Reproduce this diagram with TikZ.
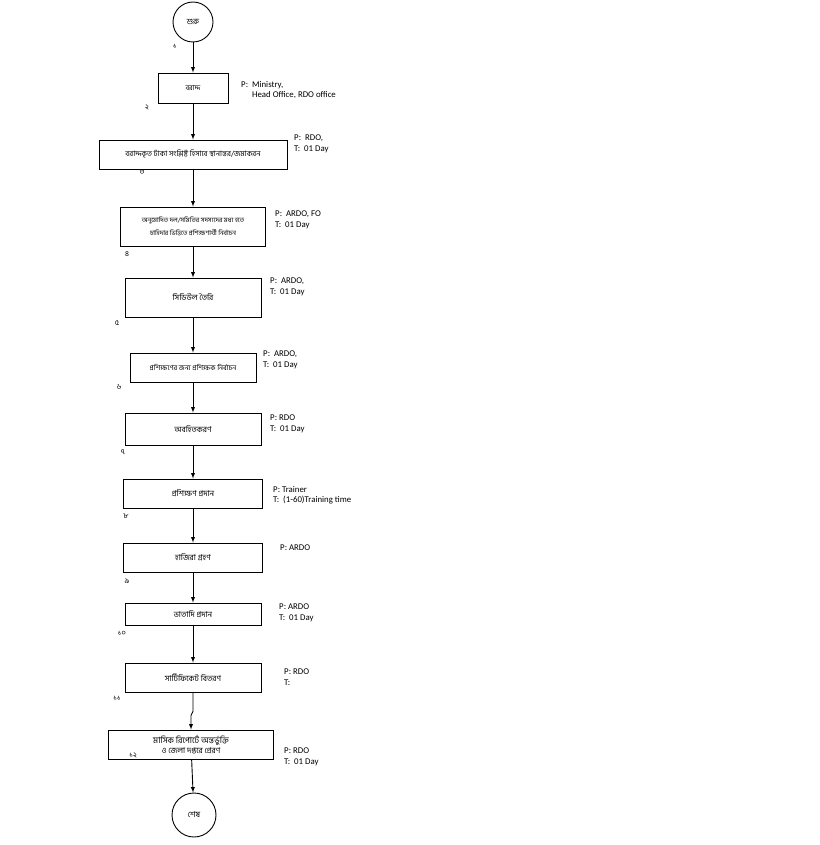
\documentclass[tikz,border=0pt]{standalone}
\usepackage{fontspec}
\setmainfont{Carlito}
\newfontfamily\bn[Script=Bengali]{Hind Siliguri}
\tikzset{
  box/.style={draw, line width=0.9pt, inner sep=0pt, align=center, font=\bn\fontsize{8}{10}\selectfont},
  term/.style={draw, circle, line width=0.9pt, inner sep=0pt, font=\bn\fontsize{8}{10}\selectfont},
  info/.style={anchor=north west, inner sep=0pt, align=left, font=\fontsize{8.8}{10.5}\selectfont},
  num/.style={inner sep=0pt, font=\bn\fontsize{7.5}{8}\selectfont},
  arr/.style={-latex, line width=0.9pt}
}
\begin{document}
\begin{tikzpicture}[x=1pt, y=-1pt]%
      \useasboundingbox (0,0) rectangle (819,845);%
      \node[term, minimum size=40pt] (S) at (193,22) {শুরু};
      \node[box, minimum width=70pt, minimum height=30pt, font=\bn\fontsize{7}{10}\selectfont] (B-1) at (193,88) {বরাদ্দ};
      \node[box, minimum width=188pt, minimum height=29pt, font=\bn\fontsize{7.5}{10}\selectfont] (B-2) at (193,154.5) {বরাদ্দকৃত টাকা সংশ্লিষ্ট হিসাবে স্থানান্তর/জমাকরন};
      \node[box, minimum width=145pt, minimum height=39pt, font=\bn\fontsize{6.5}{13}\selectfont] (B-3) at (193,226.5) {অনুমোদিত দল/সমিতির সদস্যদের মধ্য হতে\\চাহিদার ভিত্তিতে প্রশিক্ষণার্থী নির্বাচন};
      \node[box, minimum width=136pt, minimum height=39pt] (B-4) at (193,297.5) {সিডিউল তৈরি};
      \node[box, minimum width=126pt, minimum height=29pt, font=\bn\fontsize{7}{10}\selectfont] (B-5) at (193,367.5) {প্রশিক্ষণের জন্য প্রশিক্ষক নির্বাচন};
      \node[box, minimum width=136pt, minimum height=32pt] (B-6) at (193,429) {অবহিতকরণ};
      \node[box, minimum width=139pt, minimum height=29pt] (B-7) at (193,493.5) {প্রশিক্ষণ প্রদান};
      \node[box, minimum width=139pt, minimum height=29pt] (B-8) at (193,557.5) {হাজিরা গ্রহণ};
      \node[box, minimum width=136pt, minimum height=22pt] (B-9) at (193,614) {ভাতাদি প্রদান};
      \node[box, minimum width=136pt, minimum height=29pt] (B-10) at (193,677.5) {সার্টিফিকেট বিতরণ};
      \node[box, minimum width=165pt, minimum height=29pt] (B-11) at (191,744.5) {{\fontsize{8.5}{10}\selectfont মাসিক রিপোর্টে অন্তর্ভুক্তি}\\ও জেলা দপ্তরে প্রেরণ};
      \node[term, minimum size=44pt] (E) at (194,815) {শেষ};
      \foreach \i/\x/\y/\t in {1/175/46/১, 2/147/107/২, 3/142/172/৩, 4/127/254/৪, 5/117/323/৫, 6/119/387/৬,
        7/123/452/৭, 8/126/516/৮, 9/127/581/৯, 10/122/633/১০, 11/117/698/১১, 12/133/755/১২}{%
        \node[num] (n-\i) at (\x,\y) {\t};
      }
      \node[info] (P-1) at (241,81) {P:~~Ministry,\\\phantom{P:~~}Head Office, RDO office};
      \node[info] (P-2) at (294,135) {P:~~RDO,\\T:~~01 Day};
      \node[info] (P-3) at (275,211) {P:~~ARDO, FO\\T:~~01 Day};
      \node[info] (P-4) at (270,278) {P:~~ARDO,\\T:~~01 Day};
      \node[info] (P-5) at (263,351) {P:~~ARDO,\\T:~~01 Day};
      \node[info] (P-6) at (270,415) {P: RDO\\T:~~01 Day};
      \node[info] (P-7) at (273,486) {P: Trainer\\T:~~(1-60)Training time};
      \node[info] (P-8) at (280,545) {P: ARDO};
      \node[info] (P-9) at (279,604) {P: ARDO\\T:~~01 Day};
      \node[info] (P-10) at (284,669) {P: RDO\\T:};
      \node[info] (P-11) at (284,748) {P: RDO\\T:~~01 Day};
      \foreach \a/\b in {S/B-1, B-1/B-2, B-2/B-3, B-3/B-4, B-4/B-5, B-5/B-6, B-6/B-7, B-7/B-8, B-8/B-9, B-9/B-10}{%
        \draw[arr] (\a) -- (\b);
      }
      \draw[arr] (B-10.south) -- ++(0,19) -- ++(-2,4) -- (B-11);
      \draw[arr] (B-11) -- (E);
    \end{tikzpicture}
\end{document}
